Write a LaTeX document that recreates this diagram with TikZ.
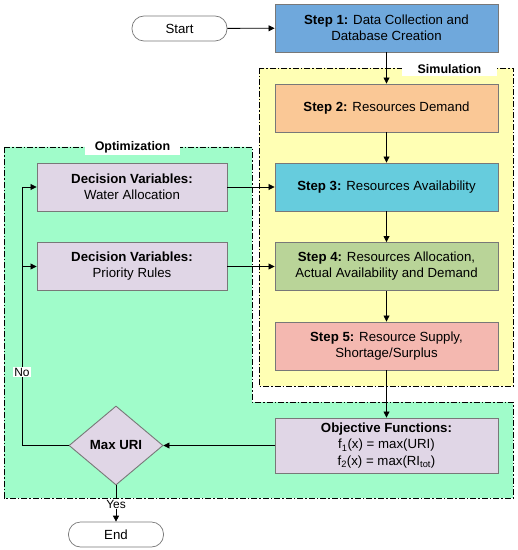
\documentclass[tikz,border=0pt]{standalone}
\usepackage{fontspec}
\setmainfont{Liberation Sans}
\usetikzlibrary{arrows.meta,shapes.geometric}
\definecolor{cStepA}{RGB}{111,168,220}
\definecolor{cStepB}{RGB}{250,200,150}
\definecolor{cStepC}{RGB}{102,204,221}
\definecolor{cStepD}{RGB}{185,212,152}
\definecolor{cStepE}{RGB}{244,184,176}
\definecolor{cDV}{RGB}{224,214,230}
\definecolor{cYel}{RGB}{255,255,180}
\definecolor{cGrn}{RGB}{160,252,202}
\definecolor{cBord}{RGB}{120,120,120}
\tikzset{
  box/.style={draw=cBord, line width=0.9bp, minimum width=223bp, align=center, font=\fontsize{13.3}{16}\selectfont, inner sep=0pt},
  dvbox/.style={draw=cBord, line width=0.9bp, fill=cDV, minimum width=190bp, minimum height=48bp, align=center, font=\fontsize{13.3}{16}\selectfont, inner sep=0pt},
  term/.style={draw=cBord, line width=0.7bp, fill=white, rounded corners=12bp, minimum width=95bp, minimum height=25bp, font=\fontsize{13.3}{16}\selectfont, inner sep=0pt},
  region/.style={draw=black, line width=0.8bp, dash pattern=on 6bp off 2bp on 1.5bp off 2bp},
  lbl/.style={fill=white, font=\bfseries\fontsize{12.5}{15}\selectfont, inner sep=2bp},
  conn/.style={draw=black, line width=0.8bp},
  arr/.style={conn, -{Triangle[length=6bp,width=6bp]}},
  ylbl/.style={fill=white, font=\fontsize{12}{14}\selectfont, inner sep=1bp}
}
\begin{document}
\begin{tikzpicture}[x=1bp,y=-1bp]
\useasboundingbox (0,0) rectangle (518,550);
% regions
\fill[cGrn] (4,147) -- (252,147) -- (252,402) -- (513,402) -- (513,498) -- (4,498) -- cycle;
\draw[region] (4,147) -- (252,147) -- (252,402) -- (513,402) -- (513,498) -- (4,498) -- cycle;
\fill[cYel] (259,68) rectangle (513,386);
\draw[region] (259,68) rectangle (513,386);
\node[lbl, minimum width=95bp, minimum height=14bp] (simlbl) at (449.5,69) {Simulation};
\node[lbl, minimum width=95bp, minimum height=12bp] (optlbl) at (132.5,147) {Optimization};
% nodes
\node[term] (start) at (179.5,28.5) {Start};
\node[box, fill=cStepA, minimum height=48bp] (s1) at (386.5,28) {\textbf{Step 1:} Data Collection and\\Database Creation};
\node[box, fill=cStepB, minimum height=48bp] (s2) at (386.5,108) {\textbf{Step 2:} Resources Demand};
\node[box, fill=cStepC, minimum height=48bp] (s3) at (386.5,187) {\textbf{Step 3:} Resources Availability};
\node[box, fill=cStepD, minimum height=48bp] (s4) at (386.5,266.5) {\textbf{Step 4:} Resources Allocation,\\Actual Availability and Demand};
\node[box, fill=cStepE, minimum height=48bp] (s5) at (386.5,346) {\textbf{Step 5:} Resource Supply,\\Shortage/Surplus};
\node[box, fill=cDV, minimum height=55bp, font=\fontsize{13.3}{16.5}\selectfont] (obj) at (386.5,445.5) {\textbf{Objective Functions:}\\f\textsubscript{1}(x) = max(URI)\\f\textsubscript{2}(x) = max(RI\textsubscript{tot})};
\node[dvbox] (dv1) at (132,187) {\textbf{Decision Variables:}\\Water Allocation};
\node[dvbox] (dv2) at (132,266.5) {\textbf{Decision Variables:}\\Priority Rules};
\node[diamond, draw=cBord, line width=0.9bp, fill=cDV, minimum width=94bp, minimum height=79bp, inner sep=0pt, font=\bfseries\fontsize{13.3}{16}\selectfont] (dec) at (116,445.5) {Max URI};
\node[term] (end) at (116,534.5) {End};
\coordinate (lp) at (22,445.5);
\coordinate (l1) at (22,187);
\coordinate (l2) at (22,266.5);
% connectors
\draw[arr] (start) -- (s1);
\draw[arr] (s1) -- (s2);
\draw[arr] (s2) -- (s3);
\draw[arr] (s3) -- (s4);
\draw[arr] (s4) -- (s5);
\draw[arr] (s5) -- (obj);
\draw[arr] (obj) -- (dec);
\draw[arr] (dv1) -- (s3);
\draw[arr] (dv2) -- (s4);
\draw[conn] (dec.west) -- (lp) -- (l1);
\draw[arr] (l1) -- (dv1);
\draw[arr] (l2) -- (dv2);
\node[ylbl] (no) at (22,372) {No};
\draw[arr] (dec.south) -- (end.north);
\node[ylbl] (yes) at (116,504) {Yes};
\end{tikzpicture}
\end{document}
